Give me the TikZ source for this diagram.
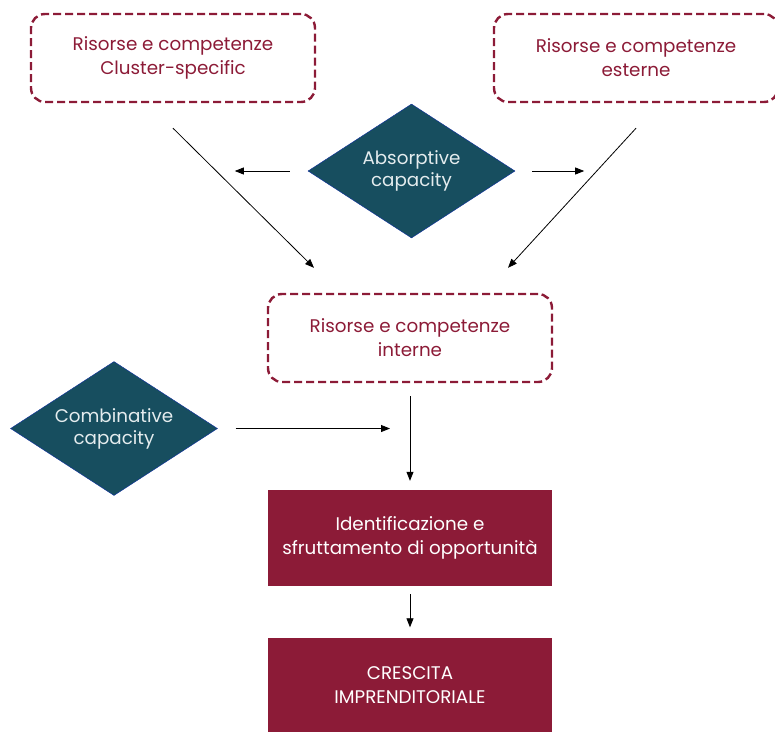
\documentclass[tikz,border=0pt]{standalone}
\usepackage{fontspec}
\setmainfont{Poppins}[Ligatures=NoCommon]
\usetikzlibrary{arrows.meta,positioning,calc,shapes.geometric}
\definecolor{bordeaux}{HTML}{8C1B37}
\definecolor{petrolio}{HTML}{174E5F}
\definecolor{pallido}{HTML}{E4ECEE}

\begin{document}
\begin{tikzpicture}[x=1pt,y=-1pt,
  risorsa/.style={draw=bordeaux, text=bordeaux, dash pattern=on 8pt off 4pt, line width=2.4pt, rounded corners=14pt, minimum width=284pt, minimum height=88pt, align=center, font=\fontsize{18.3}{24}\selectfont},
  capacita/.style={diamond, aspect=1.545, fill=petrolio, draw=blue!40!petrolio, text=pallido, inner sep=0pt, minimum width=207pt, minimum height=134pt, align=center, font=\fontsize{18.3}{22}\selectfont},
  esito/.style={fill=bordeaux, text=white, minimum width=284pt, minimum height=96pt, align=center, font=\fontsize{18.3}{24}\selectfont},
  freccia/.style={-{Triangle[length=9pt,width=7pt]}, line width=0.8pt}]
\useasboundingbox (0,0) rectangle (775,731);

% risorse in ingresso
\node[risorsa] (cluster) at (173,58) {Risorse e competenze\\Cluster-specific};
\node[risorsa] (esterne) at (636,58) {Risorse e competenze\\esterne};
\node[capacita] (absorb) at (411.5,171) {Absorptive\\capacity};
\node[risorsa] (interne) at (410,338) {Risorse e competenze\\interne};
\node[capacita] (combin) at (114,428.5) {Combinative\\capacity};

% esiti
\node[esito] (opport) at (410,538) {Identificazione e\\sfruttamento di opportunità};
\node[esito] (crescita) at (410,685.5) {CRESCITA\\IMPRENDITORIALE};

% frecce
\draw[freccia] ([xshift=-18pt]absorb.west) -- ++(-55,0);
\draw[freccia] ([xshift=17pt]absorb.east) -- ++(52,0);
\draw[freccia] ([yshift=-25pt]cluster.south) -- ([xshift=-96pt,yshift=25pt]interne.north);
\draw[freccia] ([yshift=-25pt]esterne.south) -- ([xshift=98pt,yshift=25pt]interne.north);
\draw[freccia] ([xshift=18pt]combin.east) -- ($(combin.east -| interne.south)+(-20,0)$);
\draw[freccia, shorten <=13pt, shorten >=9pt] (interne) -- (opport);
\draw[freccia, shorten <=8pt, shorten >=10pt] (opport) -- (crescita);
\end{tikzpicture}
\end{document}
